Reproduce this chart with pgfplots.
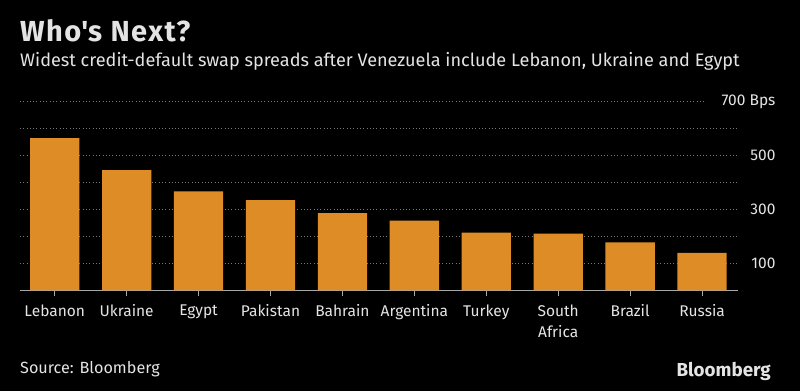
\documentclass[border=0pt]{standalone}
\usepackage{fontspec}
\setmainfont{Fira Sans}
\newfontfamily\titlefont[LetterSpace=5]{Fira Sans}
\usepackage{pgfplots}
\pgfplotsset{compat=1.18}
\definecolor{barc}{HTML}{DE8C26}
\definecolor{txt}{HTML}{E4E4E4}
\definecolor{gridc}{HTML}{7A7A7A}
\definecolor{basec}{HTML}{A8A8A8}
\begin{document}
\begin{tikzpicture}[x=1pt,y=1pt]
\fill[black] (0,0) rectangle (800,391);
\node[anchor=base west, inner sep=0, text=txt, font=\titlefont\fontsize{29}{32}\selectfont\bfseries] at (20,349.3) {Who\textquotesingle s Next?};
\node[anchor=base west, inner sep=0, text=txt, font=\fontsize{18.1}{20}\selectfont] at (20,324.3) {Widest credit-default swap spreads after Venezuela include Lebanon, Ukraine and Egypt};
\begin{axis}[
  at={(20pt,100.7pt)}, anchor=south west, scale only axis,
  width=718pt, height=188.6pt,
  xmin=-0.483, xmax=9.5, ymin=0, ymax=700,
  clip=false,
  axis x line=bottom, axis y line=right, axis line style={-},
  y axis line style={draw=none},
  x axis line style={basec, line width=1pt},
  tick align=outside, major tick length=6pt,
  xtick style={basec, line width=1pt},
  ytick style={draw=none},
  xtick={0,...,9},
  xticklabels={Lebanon,Ukraine,Egypt,Pakistan,Bahrain,Argentina,Turkey,{South\\Africa},Brazil,Russia},
  xticklabel style={font=\fontsize{15.5}{21}\selectfont, text=txt, align=center, yshift=-5pt},
  ytick={100,200,300,400,500,600},
  yticklabels={100,{},300,{},500,{}},
  extra y ticks={700}, extra y tick labels={700 Bps},
  extra y tick style={grid=none},
  ymajorgrids,
  major grid style={gridc, line width=1pt, dash pattern=on 1pt off 2.3pt},
  yticklabel style={font=\fontsize{15.5}{20}\selectfont, text=txt, anchor=east, xshift=35pt},
  /pgf/number format/assume math mode=true,
]
\addplot[ybar, bar width=49.3pt, fill=barc, draw=none] coordinates {
(0,565) (1,446) (2,367) (3,335) (4,286) (5,259) (6,214) (7,210) (8,178) (9,139)};
\addplot[gridc, line width=1pt, dash pattern=on 1pt off 2.3pt] coordinates {(-0.483,700) (9.04,700)};
\end{axis}
\node[anchor=base west, inner sep=0, text=txt, font=\fontsize{16.2}{20}\selectfont] at (20,17.7) {Source: Bloomberg};
\node[anchor=base east, inner sep=0, text=txt, font=\fontsize{18.8}{20}\selectfont\bfseries] at (771,14.3) {Bloomberg};
\end{tikzpicture}
\end{document}
